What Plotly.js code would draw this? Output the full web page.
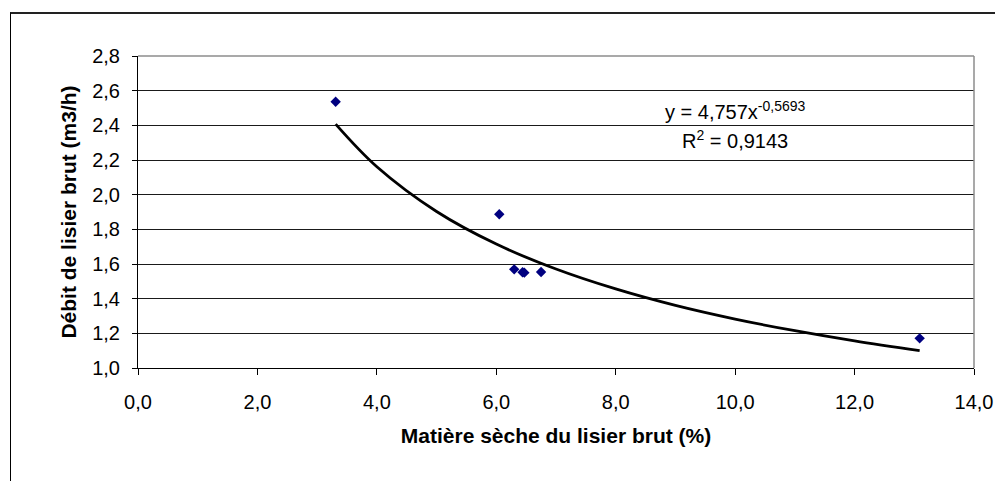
<!DOCTYPE html>
<html>
<head>
<meta charset="utf-8">
<script src="https://cdn.plot.ly/plotly-3.0.1.min.js"></script>
<style>
  html, body { margin: 0; padding: 0; background: #ffffff; overflow: hidden; }
  #frame { position: absolute; left: 10px; top: 12px; width: 1100px; height: 600px;
           border-left: 1px solid #000; border-top: 2px solid #222; box-sizing: border-box; }
  #chart { position: absolute; left: 0; top: 0; width: 995px; height: 481px; }
</style>
</head>
<body>
<div id="frame"></div>
<div id="chart"></div>
<script>
// Measured data points (dry matter %, flow m3/h)
const dryMatter = [3.31, 6.05, 6.30, 6.44, 6.47, 6.75, 13.09];
const flowRate  = [2.536, 1.887, 1.569, 1.552, 1.550, 1.554, 1.171];

// Power trendline as drawn (y = 4,757x^-0,5693)
const trendX = [3.31, 4, 5, 6, 7, 8, 9, 10, 11, 12, 13.09];
const trendY = [2.407, 2.161, 1.903, 1.715, 1.571, 1.456, 1.361, 1.282, 1.215, 1.156, 1.100];

const xTicks = [0, 2, 4, 6, 8, 10, 12, 14];
const yTicks = [1.0, 1.2, 1.4, 1.6, 1.8, 2.0, 2.2, 2.4, 2.6, 2.8];

const equationText = 'y = 4,757x<sup>-0,5693</sup>';
const r2Text = 'R<sup>2</sup> = 0,9143';
const xTitle = 'Matière sèche du lisier brut (%)';
const yTitle = 'Débit de lisier brut (m3/h)';

const font = 'Arial, "Liberation Sans", sans-serif';

const traces = [
  { x: trendX, y: trendY, type: 'scatter', mode: 'lines',
    line: { color: '#000000', width: 2.8, shape: 'spline' }, hoverinfo: 'skip', showlegend: false },
  { x: dryMatter, y: flowRate, type: 'scatter', mode: 'markers',
    marker: { symbol: 'diamond', size: 8, color: '#000080' }, showlegend: false }
];

const layout = {
  width: 995, height: 481,
  margin: { l: 138, r: 21, t: 56, b: 113 },
  paper_bgcolor: 'rgba(0,0,0,0)', plot_bgcolor: '#ffffff',
  separators: ', ',
  font: { family: font, size: 20, color: '#000000' },
  xaxis: {
    range: [0, 14], tickvals: xTicks, tickformat: '.1f',
    showgrid: false, zeroline: false,
    showline: true, linecolor: '#000000', linewidth: 1,
    ticks: 'outside', ticklen: 6, tickcolor: '#000000', tickwidth: 1,
    ticklabelstandoff: 10,
    tickfont: { family: font, size: 20, color: '#000000' },
    title: { text: xTitle, font: { family: font, size: 21, color: '#000000', weight: 'bold' }, standoff: 16 }
  },
  yaxis: {
    range: [1.0, 2.8], tickvals: yTicks, tickformat: '.1f',
    showgrid: true, gridcolor: '#1a1a1a', gridwidth: 1, zeroline: false,
    showline: true, linecolor: '#000000', linewidth: 1,
    ticks: 'outside', ticklen: 5, tickcolor: '#000000', tickwidth: 1,
    ticklabelstandoff: 8,
    tickfont: { family: font, size: 20, color: '#000000' },
    title: { text: yTitle, font: { family: font, size: 21, color: '#000000', weight: 'bold' }, standoff: 9 }
  },
  shapes: [
    { type: 'line', xref: 'paper', yref: 'paper', x0: 0, x1: 1, y0: 1, y1: 1, line: { color: '#8c8c8c', width: 1.5 } },
    { type: 'line', xref: 'paper', yref: 'paper', x0: 1, x1: 1, y0: 0, y1: 1, line: { color: '#8c8c8c', width: 1.5 } }
  ],
  annotations: [
    { x: 10.0, y: 2.485, xref: 'x', yref: 'y', text: equationText, showarrow: false,
      font: { family: font, size: 20, color: '#000000' }, xanchor: 'center', yanchor: 'middle' },
    { x: 10.0, y: 2.32, xref: 'x', yref: 'y', text: r2Text, showarrow: false,
      font: { family: font, size: 20, color: '#000000' }, xanchor: 'center', yanchor: 'middle' }
  ]
};

Plotly.newPlot('chart', traces, layout, { displayModeBar: false, staticPlot: true });
</script>
</body>
</html>
